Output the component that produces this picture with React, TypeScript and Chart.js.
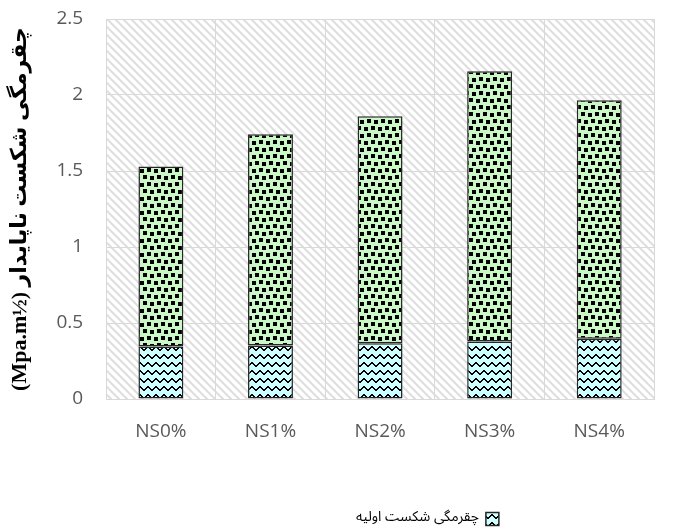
import React, { useEffect, useRef } from "react";
import { Chart, registerables } from "chart.js";

Chart.register(...registerables);

const categories = ["NS0%", "NS1%", "NS2%", "NS3%", "NS4%"];
const initialToughness = [0.345, 0.352, 0.367, 0.378, 0.396];
const extraToughness = [1.185, 1.389, 1.493, 1.779, 1.57];
const initialLabel = "چقرمگی شکست اولیه";
const extraLabel = "چقرمگی شکست ناپایدار";
const yTitle = "(Mpa.m½) چقرمگی شکست ناپایدار";
const yMin = 0;
const yMax = 2.5;
const yStep = 0.5;

function makeTile(w: number, h: number, draw: (c: CanvasRenderingContext2D) => void) {
  const cv = document.createElement("canvas");
  cv.width = w;
  cv.height = h;
  const c = cv.getContext("2d") as CanvasRenderingContext2D;
  draw(c);
  return cv;
}

function hatchPattern(ctx: CanvasRenderingContext2D) {
  const t = makeTile(8, 8, (c) => {
    c.fillStyle = "#ffffff";
    c.fillRect(0, 0, 8, 8);
    c.strokeStyle = "#dedede";
    c.lineWidth = 2;
    for (const o of [-8, 0, 8]) {
      c.beginPath();
      c.moveTo(o - 1, -1);
      c.lineTo(o + 9, 9);
      c.stroke();
    }
  });
  return ctx.createPattern(t, "repeat") as CanvasPattern;
}

function dotsPattern(ctx: CanvasRenderingContext2D) {
  const t = makeTile(14, 14, (c) => {
    c.fillStyle = "#c9f8c6";
    c.fillRect(0, 0, 14, 14);
    c.fillStyle = "#000000";
    const pts = [
      [0, 1], [7, 0], [3, 7], [10, 8],
    ];
    for (const [x, y] of pts) c.fillRect(x, y, 4, 4);
  });
  return ctx.createPattern(t, "repeat") as CanvasPattern;
}

function wavePattern(ctx: CanvasRenderingContext2D) {
  const t = makeTile(8, 8, (c) => {
    c.fillStyle = "#ccffff";
    c.fillRect(0, 0, 8, 8);
    c.fillStyle = "#000000";
    const ys = [5, 4, 3, 2, 2, 3, 4, 5];
    ys.forEach((y, x) => c.fillRect(x, y, 1, 2));
  });
  return ctx.createPattern(t, "repeat") as CanvasPattern;
}

export default function App() {
  const ref = useRef<HTMLCanvasElement | null>(null);

  useEffect(() => {
    const canvas = ref.current;
    if (!canvas) return;
    const ctx = canvas.getContext("2d") as CanvasRenderingContext2D;
    const hatch = hatchPattern(ctx);
    const dots = dotsPattern(ctx);
    const wave = wavePattern(ctx);

    const bgPlugin = {
      id: "plotBg",
      beforeDraw(chart: any) {
        const { left, top, right, bottom } = chart.chartArea;
        const c = chart.ctx;
        c.save();
        c.fillStyle = hatch;
        c.fillRect(left, top, right - left, bottom - top);
        c.restore();
      },
    };

    const legendShift = {
      id: "legendShift",
      afterLayout(chart: any) {
        const lg = chart.legend;
        if (!lg) return;
        const shift = 196;
        lg.left += shift;
        lg.width -= shift;
        lg.top += 6;
        lg.bottom += 6;
      },
    };

    const chart = new Chart(canvas, {
      type: "bar",
      data: {
        labels: categories,
        datasets: [
          {
            label: initialLabel,
            data: initialToughness,
            backgroundColor: wave,
            borderColor: "#262626",
            borderWidth: 1.5,
            borderSkipped: false,
            stack: "s",
          },
          {
            label: extraLabel,
            data: extraToughness,
            backgroundColor: dots,
            borderColor: "#262626",
            borderWidth: 1.5,
            borderSkipped: false,
            stack: "s",
          },
        ],
      },
      options: {
        animation: false,
        responsive: true,
        maintainAspectRatio: false,
        layout: { padding: { left: 5, right: 19, top: 19, bottom: 0 } },
        datasets: {
          bar: { categoryPercentage: 1, barPercentage: 0.41 },
        },
        scales: {
          x: {
            stacked: true,
            grid: { color: "#d9d9d9", lineWidth: 1, drawTicks: false },
            border: { color: "#d9d9d9" },
            ticks: {
              color: "#595959",
              padding: 21,
              font: { family: "'Open Sans', sans-serif", size: 19 },
            },
            afterFit(scale: any) {
              scale.height = 103;
            },
          },
          y: {
            stacked: true,
            min: yMin,
            max: yMax,
            ticks: {
              stepSize: yStep,
              color: "#595959",
              padding: 23,
              callback: (v: any) => String(Number(v)),
              font: { family: "'Open Sans', sans-serif", size: 19 },
            },
            afterFit(scale: any) {
              scale.paddingTop = 0;
              scale.paddingBottom = 0;
            },
            grid: { color: "#d9d9d9", lineWidth: 1, drawTicks: false },
            border: { color: "#d9d9d9" },
            title: {
              display: true,
              text: yTitle,
              color: "#000000",
              padding: { top: 2, bottom: 0 },
              font: { family: "'Liberation Serif', 'DejaVu Sans', serif", size: 22, weight: "bold" },
            },
          },
        },
        plugins: {
          legend: {
            position: "bottom",
            rtl: true,
            textDirection: "rtl",
            labels: {
              filter: (item: any) => item.datasetIndex === 0,
              boxWidth: 13,
              boxHeight: 13,
              padding: 4,
              color: "#000000",
              font: { family: "'Noto Sans Arabic', 'Noto Naskh Arabic', 'DejaVu Sans', sans-serif", size: 14 },
            },
          },
          tooltip: { enabled: false },
        },
      },
      plugins: [bgPlugin, legendShift],
    });

    return () => chart.destroy();
  }, []);

  return (
    <div style={{ position: "absolute", left: 0, top: 0, width: 673, height: 530, background: "#fff" }}>
      <canvas ref={ref} />
    </div>
  );
}
